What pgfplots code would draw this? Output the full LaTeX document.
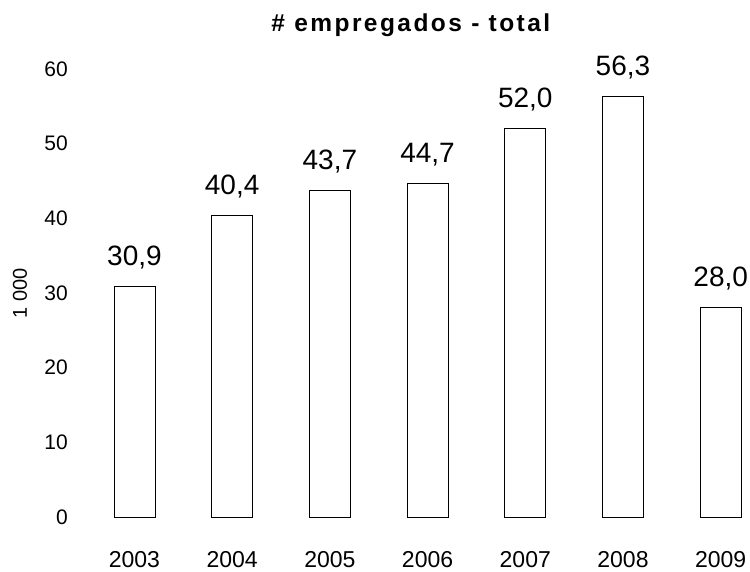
\documentclass[border=0pt]{standalone}
\usepackage{pgfplots}
\pgfplotsset{compat=1.18}
\usepackage{fontspec}
\setmainfont{Liberation Sans}
\newfontfamily\titlefont[LetterSpace=10]{Liberation Sans}
\begin{document}
\begin{tikzpicture}
\useasboundingbox (0,0) rectangle (750pt,571pt);
\begin{axis}[
  at={(85.6pt,54pt)}, anchor=south west,
  scale only axis, width=664.4pt, height=448pt,
  xmin=-0.5, xmax=6.3, ymin=0, ymax=60,
  enlargelimits=false, clip=false,
  axis line style={draw=none}, tick style={draw=none}, major tick length=0pt,
  /pgf/number format/assume math mode=true,
  xtick={0,1,2,3,4,5,6},
  xticklabels={2003,2004,2005,2006,2007,2008,2009},
  ytick={0,10,20,30,40,50,60},
  xticklabel style={font=\fontsize{23}{26}\selectfont, anchor=base, inner sep=0pt, yshift=-50pt},
  yticklabel style={font=\fontsize{21}{24}\selectfont, anchor=east, inner sep=0pt, xshift=-17.6pt},
  ylabel={1 000},
  ylabel style={font=\fontsize{20}{24}\selectfont, at={(axis description cs:-0.0988,0.5)}, anchor=center},
  title={\titlefont\bfseries \# empregados - total},
  title style={font=\fontsize{24.5}{28}\selectfont, at={(axis description cs:0.4895,1.0714)}, anchor=base, yshift=0pt},
  ybar, bar width=41pt, bar shift=0pt,
  nodes near coords,
  nodes near coords style={font=\fontsize{28}{32}\selectfont, anchor=base, yshift=21pt,
    /pgf/number format/.cd, fixed, fixed zerofill, precision=1, use comma, assume math mode=true},
]
\addplot[draw=black, fill=white, line width=0.9pt] coordinates {
 (0,30.9) (1,40.4) (2,43.7) (3,44.7) (4,52.0) (5,56.3) (6,28.0)
};
\end{axis}
\end{tikzpicture}
\end{document}
